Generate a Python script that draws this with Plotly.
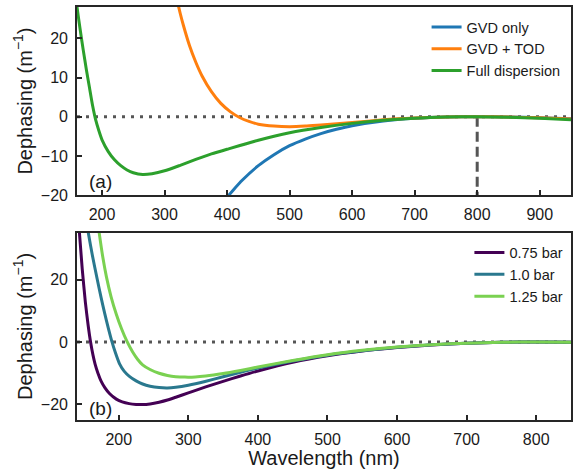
import plotly.graph_objects as go

# ---------------- Panel (a): dispersion contributions ----------------
wl_gvd = [395, 400, 410, 425, 450, 475, 500, 525, 550, 575, 600, 650, 700, 750, 800, 850, 900, 950]
deph_gvd = [-21.7, -20.6, -18.7, -16.1, -12.5, -9.7, -7.4, -5.7, -4.3, -3.2, -2.3, -1.1, -0.42, -0.09, 0.0, -0.07, -0.26, -0.51]

wl_tod = [315, 320, 325, 330, 340, 350, 360, 375, 390, 405, 420, 435, 450, 475, 500, 525, 550, 600, 650, 700, 750, 800, 850, 900, 950]
deph_tod = [33.5, 29.8, 26.4, 23.4, 18.1, 13.9, 10.4, 6.4, 3.4, 1.3, -0.2, -1.2, -1.9, -2.4, -2.55, -2.4, -2.1, -1.5, -0.8, -0.36, -0.09, 0.0, -0.08, -0.29, -0.6]

wl_full = [155, 160, 165, 170, 175, 180, 185, 190, 195, 200, 210, 220, 230, 240, 250, 265, 280, 300, 325, 350, 375, 400, 450, 500, 550, 600, 650, 700, 750, 800, 850, 900, 950]
deph_full = [34, 28, 22.3, 17, 12.0, 7.4, 2.8, -0.9, -3.6, -5.9, -8.9, -11.0, -12.5, -13.6, -14.3, -14.75, -14.55, -13.8, -12.4, -10.9, -9.5, -8.3, -6.0, -4.1, -2.75, -1.7, -0.92, -0.4, -0.09, 0.0, -0.13, -0.38, -0.75]

labels_a = ["GVD only", "GVD + TOD", "Full dispersion"]
colors_a = ["#1f77b4", "#ff7f0e", "#2ca02c"]

# ---------------- Panel (b): pressure dependence ----------------
wl_075 = [138, 143.5, 147.5, 152, 156, 159.5, 163, 166, 170, 175, 180, 187, 196.5, 205, 215, 225, 234, 245, 258, 270, 282, 300, 325, 350, 375, 400, 450, 500, 550, 600, 650, 700, 750, 800, 850]
deph_075 = [50, 35, 23.5, 12.8, 5.4, 0.0, -4.2, -7.05, -9.9, -12.7, -14.6, -16.6, -18.3, -19.2, -19.75, -20.0, -20.05, -19.85, -19.3, -18.6, -17.7, -16.3, -14.4, -12.6, -10.9, -9.3, -6.5, -4.4, -2.85, -1.75, -0.95, -0.4, -0.08, 0.0, -0.1]

wl_100 = [150, 156.3, 162, 169, 174.5, 179.9, 185, 190, 195, 201, 208, 215.3, 225, 234.3, 245, 258, 270, 282, 300, 324, 350, 375, 400, 450, 500, 550, 600, 650, 700, 750, 800, 850]
deph_100 = [44, 35, 27.9, 20.2, 14.4, 9.1, 4.5, 0.3, -3.3, -6.9, -9.4, -11.0, -12.45, -13.45, -14.15, -14.6, -14.72, -14.5, -13.85, -12.65, -11.15, -9.7, -8.35, -6.05, -4.2, -2.8, -1.7, -0.9, -0.38, -0.08, 0.0, -0.1]

wl_125 = [165, 171.9, 177, 182.3, 189, 196.5, 204, 211.5, 220, 227, 234.3, 245, 258, 270, 282, 295, 310, 325, 350, 375, 400, 450, 500, 550, 600, 650, 700, 750, 800, 850]
deph_125 = [46.7, 35, 27.35, 20.9, 14.5, 8.9, 4.25, 0.35, -3.2, -5.5, -7.3, -8.8, -10.0, -10.7, -11.1, -11.25, -11.2, -10.9, -10.1, -9.1, -8.0, -5.9, -4.05, -2.65, -1.6, -0.85, -0.35, -0.06, 0.0, -0.1]

labels_b = ["0.75 bar", "1.0 bar", "1.25 bar"]
colors_b = ["#440154", "#2a788e", "#7ad151"]

# axis settings
xrange_a = [160, 950]
yrange_a = [-20, 28]
xticks_a = [200, 300, 400, 500, 600, 700, 800, 900]
yticks_a = [-20, -10, 0, 10, 20]
xrange_b = [140, 850]
yrange_b = [-25, 35]
xticks_b = [200, 300, 400, 500, 600, 700, 800]
yticks_b = [-20, 0, 20]
PUMP_WL = 800

FONT = "Liberation Sans, Arial, sans-serif"
AX = "#262626"
REF = "#555555"

fig = go.Figure()

for wl, d, name, c in zip([wl_gvd, wl_tod, wl_full], [deph_gvd, deph_tod, deph_full], labels_a, colors_a):
    fig.add_trace(go.Scatter(x=wl, y=d, mode="lines", name=name,
                             line=dict(color=c, width=3, shape="spline", smoothing=0.6),
                             xaxis="x", yaxis="y", legend="legend"))

for wl, d, name, c in zip([wl_075, wl_100, wl_125], [deph_075, deph_100, deph_125], labels_b, colors_b):
    fig.add_trace(go.Scatter(x=wl, y=d, mode="lines", name=name,
                             line=dict(color=c, width=3, shape="spline", smoothing=0.6),
                             xaxis="x2", yaxis="y2", legend="legend2"))

def axis_style(**kw):
    base = dict(showgrid=False, zeroline=False, showline=True, linecolor=AX, linewidth=1.6,
                mirror=True, ticks="inside", ticklen=5, tickwidth=1.5, tickcolor=AX,
                ticklabelstandoff=4,
                tickfont=dict(size=16, color="#1a1a1a", family=FONT))
    base.update(kw)
    return base

fig.update_layout(
    width=574, height=469,
    margin=dict(l=77, r=1, t=7, b=47),
    plot_bgcolor="white", paper_bgcolor="white",
    font=dict(family=FONT, color="#1a1a1a"),
    xaxis=axis_style(domain=[0, 1], anchor="y", range=xrange_a, tickvals=xticks_a),
    yaxis=axis_style(domain=[0.5446, 1], anchor="x", range=yrange_a, tickvals=yticks_a,
                     title=dict(text="Dephasing (m<sup>−1</sup>)", font=dict(size=20), standoff=3)),
    xaxis2=axis_style(domain=[0, 1], anchor="y2", range=xrange_b, tickvals=xticks_b,
                      title=dict(text="Wavelength (nm)", font=dict(size=20), standoff=6)),
    yaxis2=axis_style(domain=[0, 0.453], anchor="x2", range=yrange_b, tickvals=yticks_b,
                      title=dict(text="Dephasing (m<sup>−1</sup>)", font=dict(size=20), standoff=3)),
    legend=dict(x=(428 - 77) / 496, xanchor="left", y=0.9904, yanchor="top",
                bgcolor="rgba(0,0,0,0)", font=dict(size=14.5), tracegroupgap=0),
    legend2=dict(x=(471 - 77) / 496, xanchor="left", y=0.4441, yanchor="top",
                 bgcolor="rgba(0,0,0,0)", font=dict(size=14.5), tracegroupgap=0),
    showlegend=True,
)

# reference lines
fig.add_shape(type="line", xref="x domain", yref="y", x0=0, x1=1, y0=0, y1=0,
              line=dict(color=REF, width=3, dash="3px,6px"), layer="below")
fig.add_shape(type="line", xref="x2 domain", yref="y2", x0=0, x1=1, y0=0, y1=0,
              line=dict(color=REF, width=3, dash="3px,6px"), layer="below")
fig.add_shape(type="line", xref="x", yref="y", x0=PUMP_WL, x1=PUMP_WL, y0=0, y1=yrange_a[0],
              line=dict(color=REF, width=3, dash="10px,5px"), layer="below")

fig.add_annotation(text="(a)", xref="x domain", yref="y domain", x=0.02, y=0.07,
                   xanchor="left", yanchor="middle", showarrow=False, font=dict(size=19))
fig.add_annotation(text="(b)", xref="x2 domain", yref="y2 domain", x=0.02, y=0.064,
                   xanchor="left", yanchor="middle", showarrow=False, font=dict(size=19))

fig.write_html("out.html", config={"displayModeBar": False},
               post_script="document.body.style.margin='0';")
